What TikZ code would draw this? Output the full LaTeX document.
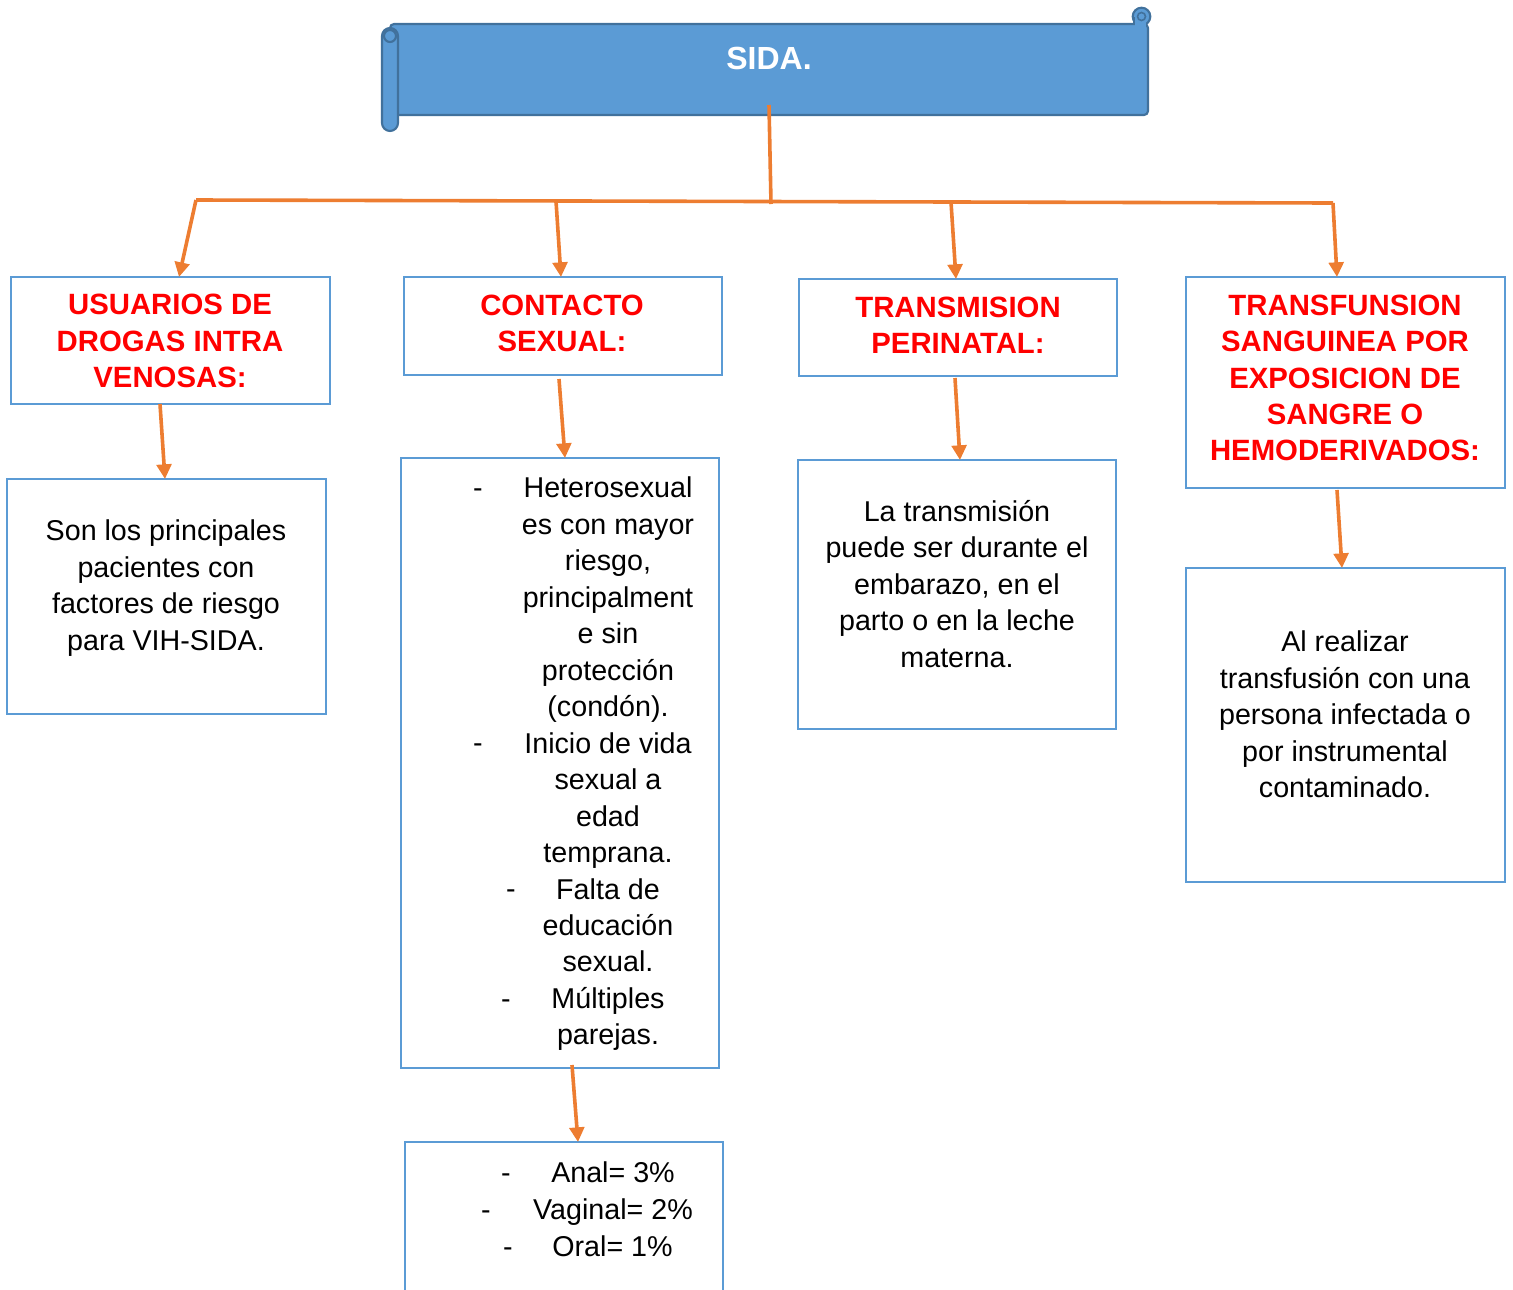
\documentclass[tikz,border=0pt]{standalone}
\usepackage{fontspec}
\setmainfont{Liberation Sans}
\usetikzlibrary{arrows.meta,fit}
\definecolor{boxblue}{HTML}{5B9BD5}
\definecolor{darkblue}{HTML}{41719C}
\definecolor{orng}{HTML}{ED7D31}
\definecolor{hdred}{HTML}{FF0000}
\begin{document}
\begin{tikzpicture}[x=0.75pt,y=-0.75pt,
  boxst/.style={draw=boxblue, line width=2.1pt, inner sep=0pt},
  scrollst/.style={draw=darkblue, fill=boxblue, line width=1.6pt},
  conn/.style={draw=orng, line width=2.7pt},
  arr/.style={conn, -{Triangle[length=11pt,width=11pt]}},
  hd/.style={font=\fontsize{22}{27.2}\selectfont\bfseries, text=hdred, align=center, inner sep=0pt},
  bd/.style={font=\fontsize{21.5}{27.35}\selectfont, align=center, inner sep=0pt},
  dsh/.style={font=\fontsize{21.5}{27.35}\selectfont, inner sep=0pt, anchor=base}]
\useasboundingbox (0,0) rectangle (1513,1289);

% ---- banner (scroll) ----
\draw[scrollst] (1141.5,16.5) circle[radius=6.6pt];
\draw[scrollst, rounded corners=3pt] (390,24) -- (1148,24) -- (1148,115) -- (390,115) -- cycle;
\fill[boxblue] (1134.5,19) rectangle (1146,26);
\draw[darkblue, line width=1.6pt] (1134,24) -- (1134,17);
\draw[darkblue, line width=1.2pt] (1141.5,16.5) circle[radius=3pt];
\draw[scrollst, rounded corners=6pt] (382,28) rectangle (398,131);
\draw[scrollst] (390,36) circle[radius=4.5pt];
\node[font=\fontsize{24}{28}\selectfont\bfseries, text=white, inner sep=0pt] (sida) at (769,58) {SIDA.};

% ---- boxes ----
\node[boxst, fit={(11,277) (330,404)}] (h1) {};
\node[boxst, fit={(404,277) (722,375)}] (h2) {};
\node[boxst, fit={(799,279) (1117,376)}] (h3) {};
\node[boxst, fit={(1186,277) (1505,488)}] (h4) {};
\node[boxst, fit={(7,479) (326,714)}] (d1) {};
\node[boxst, fit={(401,458) (719,1068)}] (d2) {};
\node[boxst, fit={(798,460) (1116,729)}] (d3) {};
\node[boxst, fit={(1186,568) (1505,882)}] (d4) {};
\draw[draw=boxblue, line width=2.1pt] (405,1290) -- (405,1142) -- (723,1142) -- (723,1290);

% ---- header texts ----
\node[hd] (t1) at (170,341) {USUARIOS DE\\DROGAS INTRA\\VENOSAS:};
\node[hd] (t2) at (562,323.5) {CONTACTO\\SEXUAL:};
\node[hd] (t3) at (958,325) {TRANSMISION\\PERINATAL:};
\node[hd] (t4) at (1345,378) {TRANSFUNSION\\SANGUINEA POR\\EXPOSICION DE\\SANGRE O\\HEMODERIVADOS:};

% ---- body texts ----
\node[bd] (x1) at (166,588) {Son los principales\\pacientes con\\factores de riesgo\\para VIH-SIDA.};
\node[bd] (x2) at (608,764) {Heterosexual\\es con mayor\\riesgo,\\principalment\\e sin\\protección\\(condón).\\Inicio de vida\\sexual a\\edad\\temprana.\\Falta de\\educación\\sexual.\\Múltiples\\parejas.};
\node[dsh] (m1) at (478,497) {-};
\node[dsh] (m2) at (478,752) {-};
\node[dsh] (m3) at (511,898) {-};
\node[dsh] (m4) at (506,1008) {-};
\node[bd] (x3) at (957,584) {La transmisión\\puede ser durante el\\embarazo, en el\\parto o en la leche\\materna.};
\node[bd] (x4) at (1345,714.5) {Al realizar\\transfusión con una\\persona infectada o\\por instrumental\\contaminado.};
\node[dsh] (p1) at (613,1182) {Anal= 3\%};
\node[dsh] (p2) at (613,1219) {Vaginal= 2\%};
\node[dsh] (p3) at (612.5,1256) {Oral= 1\%};
\node[dsh] (n1) at (506,1182) {-};
\node[dsh] (n2) at (486,1219) {-};
\node[dsh] (n3) at (508,1256) {-};

% ---- connectors ----
\coordinate (r0) at (769,105);
\coordinate (r1) at (771,204);
\coordinate (bL) at (196,200);
\coordinate (bR) at (1333,203);
\coordinate (b2) at (556,201);
\coordinate (b3) at (951,202);
\draw[conn] (r0) -- (r1);
\draw[conn, line join=miter] (bL) -- (bR);

\coordinate (e1) at (179,277);
\coordinate (e2) at (561,277);
\coordinate (e3) at (956,279);
\coordinate (e4) at (1337,277);
\draw[arr] (bL) -- (e1);
\draw[arr] (b2) -- (e2);
\draw[arr] (b3) -- (e3);
\draw[arr] (bR) -- (e4);

\coordinate (s1) at (160,404);
\coordinate (f1) at (165,479);
\coordinate (s2) at (559,379);
\coordinate (f2) at (565,458);
\coordinate (s3) at (955,378);
\coordinate (f3) at (960,460);
\coordinate (s4) at (1337,490);
\coordinate (f4) at (1342,568);
\coordinate (s5) at (572,1065);
\coordinate (f5) at (578,1142);
\draw[arr] (s1) -- (f1);
\draw[arr] (s2) -- (f2);
\draw[arr] (s3) -- (f3);
\draw[arr] (s4) -- (f4);
\draw[arr] (s5) -- (f5);
\end{tikzpicture}
\end{document}
